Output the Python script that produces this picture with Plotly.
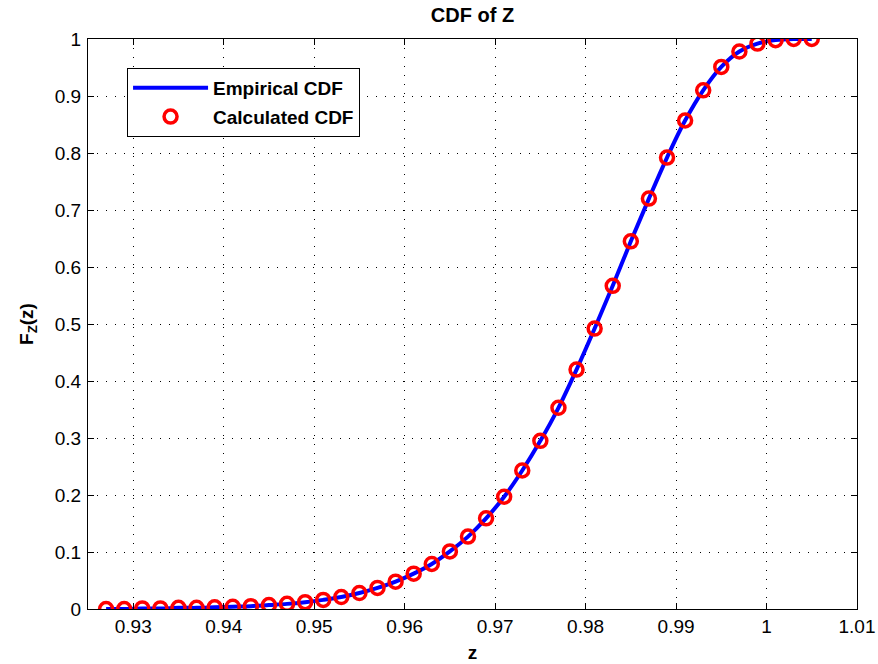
import plotly.graph_objects as go

z_vals = [0.927, 0.929, 0.931, 0.933, 0.935, 0.937, 0.939, 0.941, 0.943, 0.945,
          0.947, 0.949, 0.951, 0.953, 0.955, 0.957, 0.959, 0.961, 0.963, 0.965,
          0.967, 0.969, 0.971, 0.973, 0.975, 0.977, 0.979, 0.981, 0.983, 0.985,
          0.987, 0.989, 0.991, 0.993, 0.995, 0.997, 0.999, 1.001, 1.003, 1.005]
calc_cdf = [0.000, 0.000, 0.001, 0.001, 0.002, 0.002, 0.003, 0.004, 0.005, 0.007,
            0.009, 0.012, 0.016, 0.021, 0.028, 0.037, 0.048, 0.062, 0.079, 0.101,
            0.127, 0.159, 0.197, 0.243, 0.295, 0.353, 0.420, 0.492, 0.567, 0.645,
            0.720, 0.792, 0.857, 0.910, 0.951, 0.978, 0.992, 0.998, 1.000, 1.000]
emp_cdf = calc_cdf

x_tickvals = [0.93, 0.94, 0.95, 0.96, 0.97, 0.98, 0.99, 1.0, 1.01]
x_ticktext = ["0.93", "0.94", "0.95", "0.96", "0.97", "0.98", "0.99", "1", "1.01"]
y_tickvals = [0, 0.1, 0.2, 0.3, 0.4, 0.5, 0.6, 0.7, 0.8, 0.9, 1]
y_ticktext = ["0", "0.1", "0.2", "0.3", "0.4", "0.5", "0.6", "0.7", "0.8", "0.9", "1"]

FONT = "Liberation Sans, Arial, Helvetica"

fig = go.Figure()
fig.add_trace(go.Scatter(x=z_vals, y=emp_cdf, mode="lines", name="Empirical CDF",
                         legendgroup="a",
                         line=dict(color="#0000ff", width=4, shape="spline")))
fig.add_trace(go.Scatter(x=z_vals, y=calc_cdf, mode="markers", name="Calculated CDF",
                         legendgroup="b",
                         marker=dict(symbol="circle-open", size=13, color="#ff0000",
                                     line=dict(width=3.5, color="#ff0000"))))

axis_common = dict(showline=True, linecolor="black", linewidth=1, mirror="ticks",
                   ticks="inside", ticklen=6, tickcolor="black",
                   showgrid=True, gridcolor="black", gridwidth=1, griddash="1px,8px",
                   zeroline=False, automargin=False,
                   tickfont=dict(family=FONT, size=19, color="black"))

fig.update_layout(
    width=878, height=664,
    margin=dict(l=88, r=21, t=39, b=55),
    paper_bgcolor="white", plot_bgcolor="white",
    title=dict(text="<b>CDF of Z</b>", x=(88 + 857) / 2 / 878, xref="container", xanchor="center",
               y=1 - 15/664, yref="container", yanchor="middle",
               font=dict(family=FONT, size=20, color="black")),
    xaxis=dict(range=[0.925, 1.01], tickvals=x_tickvals, ticktext=x_ticktext,
               title=dict(text="<b>z</b>", standoff=9,
                          font=dict(family=FONT, size=19, color="black")),
               **axis_common),
    yaxis=dict(range=[0, 1], tickvals=y_tickvals, ticktext=y_ticktext,
               ticklabelstandoff=2,
               title=dict(text="<b>F<sub>Z</sub>(z)</b>", standoff=16,
                          font=dict(family=FONT, size=19, color="black")),
               **axis_common),
    legend=dict(x=(127 - 88) / 768, y=(609 - 68) / 570, xanchor="left", yanchor="top",
                bgcolor="white", bordercolor="black", borderwidth=1,
                font=dict(family=FONT, size=19, color="black", weight="bold"),
                itemwidth=75, tracegroupgap=1),
    showlegend=True,
)

fig.write_html("out.html")
